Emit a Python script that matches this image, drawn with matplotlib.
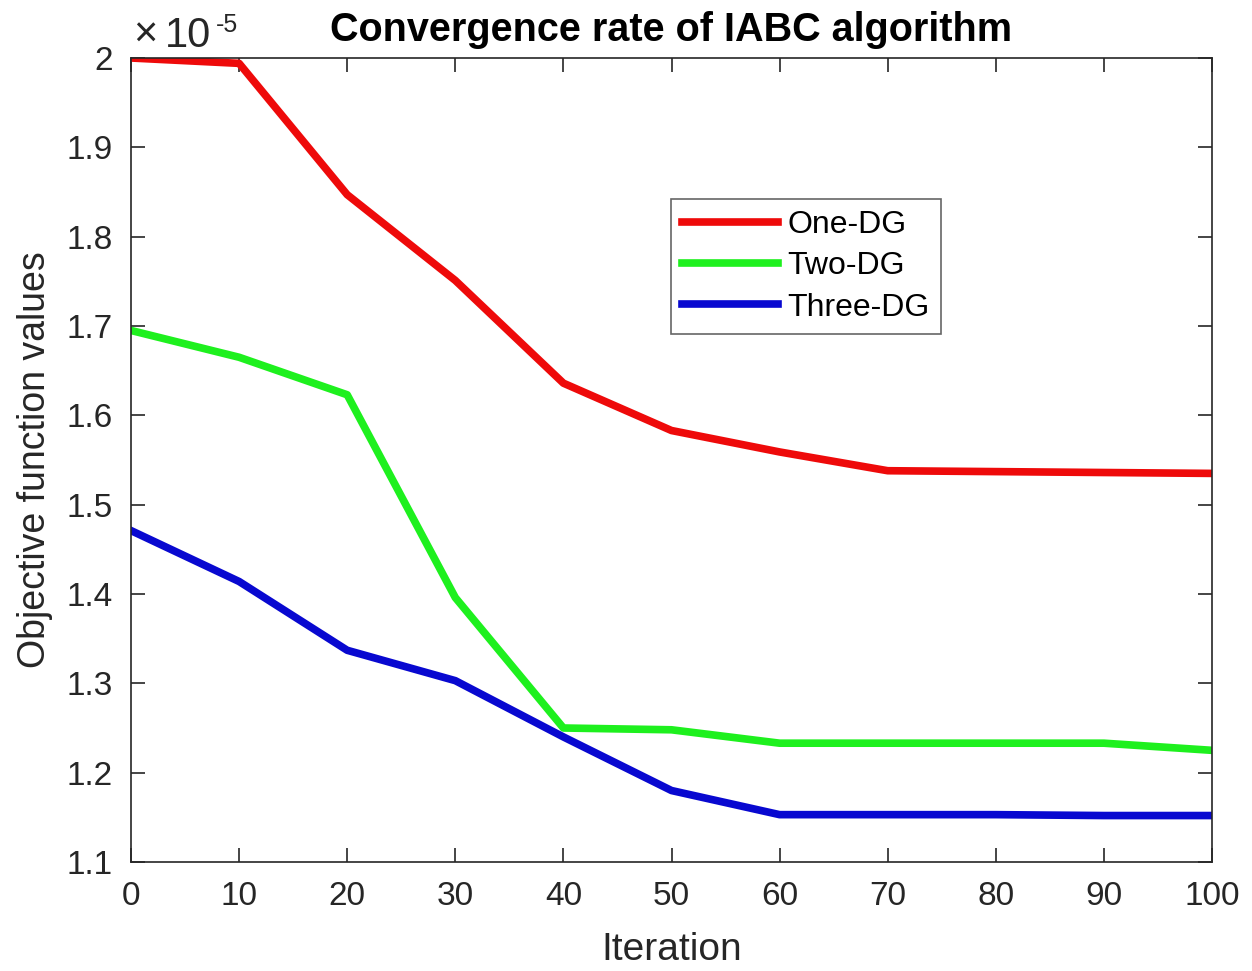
import matplotlib
matplotlib.use('Agg')
import matplotlib.pyplot as plt
from matplotlib.ticker import FuncFormatter, MultipleLocator
import numpy as np

plt.rcParams['font.family'] = ['Liberation Sans', 'DejaVu Sans']

# iteration checkpoints and objective values (x 1e-5)
iterations = [0, 10, 20, 30, 40, 50, 60, 70, 80, 90, 100]
one_dg = [2.000, 1.994, 1.847, 1.751, 1.636, 1.583, 1.559, 1.538, 1.537, 1.536, 1.535]
two_dg = [1.695, 1.665, 1.623, 1.396, 1.250, 1.248, 1.233, 1.233, 1.233, 1.233, 1.225]
three_dg = [1.471, 1.414, 1.337, 1.303, 1.240, 1.180, 1.153, 1.153, 1.153, 1.152, 1.152]
scale = 1e-5

fig = plt.figure(figsize=(12.52, 9.71), dpi=100)
ax = fig.add_axes([131 / 1252, 1 - 862 / 971, (1212 - 131) / 1252, (862 - 58) / 971])

lw = 5.5
ax.plot(iterations, np.array(one_dg) * scale, color='#ee0a0a', lw=lw, label='One-DG')
ax.plot(iterations, np.array(two_dg) * scale, color='#1ef01e', lw=lw, label='Two-DG')
ax.plot(iterations, np.array(three_dg) * scale, color='#0808d0', lw=lw, label='Three-DG')

ax.set_xlim(0, 100)
ax.set_ylim(1.1 * scale, 2.0 * scale)
ax.xaxis.set_major_locator(MultipleLocator(10))
ax.yaxis.set_major_locator(MultipleLocator(0.1 * scale))
ax.yaxis.set_major_formatter(FuncFormatter(lambda v, p: '%g' % round(v / scale, 3)))

tick_col = '#262626'
for s in ax.spines.values():
    s.set_color(tick_col)
    s.set_linewidth(1.2)
ax.tick_params(direction='in', length=10, width=1.2, top=True, right=True,
               labelsize=24, colors=tick_col)
ax.tick_params(axis='x', pad=14)
ax.tick_params(axis='y', pad=13)

# exponent shown above the y axis
ax.text(0.002, 1.0137, '\u00d7', transform=ax.transAxes, fontsize=30,
        color=tick_col, ha='left', va='baseline')
ax.text(0.031, 1.0137, '10', transform=ax.transAxes, fontsize=30,
        color=tick_col, ha='left', va='baseline')
ax.text(0.0785, 1.0323, '-5', transform=ax.transAxes, fontsize=18,
        color=tick_col, ha='left', va='baseline')

ax.set_title('Convergence rate of IABC algorithm', fontsize=28.5, fontweight='bold', pad=12)
ax.set_xlabel('Iteration', fontsize=28, color=tick_col, labelpad=14)
ax.set_ylabel('Objective function values', fontsize=27, color=tick_col, labelpad=10)

leg = ax.legend(loc='upper left', bbox_to_anchor=((671 - 131) / 1081, (862 - 199) / 804),
                fontsize=23, handlelength=3.0, handletextpad=0.3, labelspacing=0.35,
                borderpad=0.35, borderaxespad=0, fancybox=False, framealpha=1,
                edgecolor='#666666')
leg.get_frame().set_linewidth(1.2)

fig.savefig('out.png', dpi=100, facecolor='white')
